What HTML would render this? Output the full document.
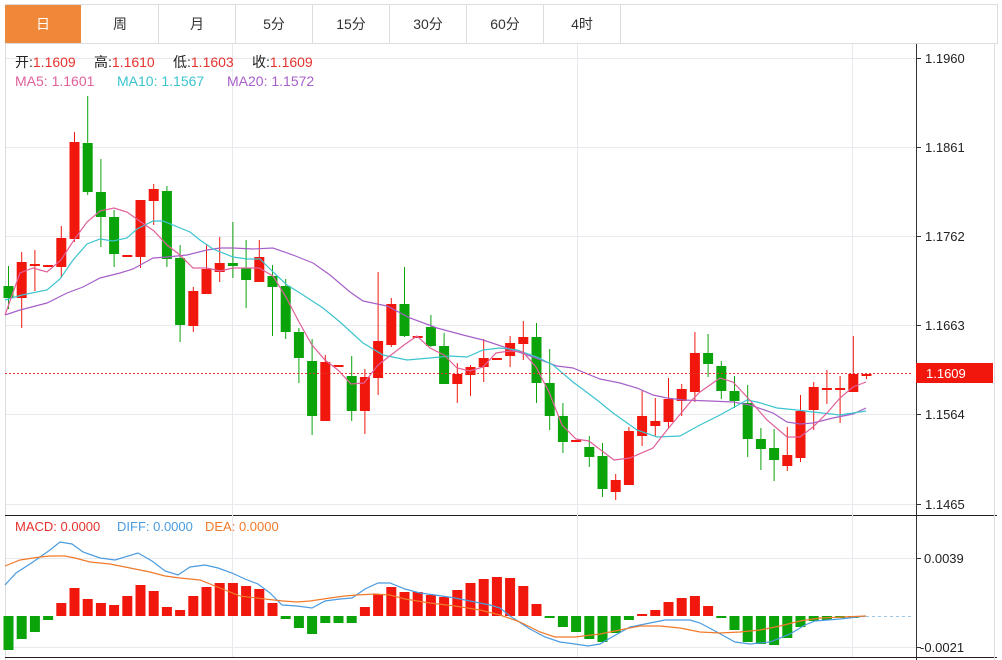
<!DOCTYPE html>
<html><head><meta charset="utf-8">
<style>
body{margin:0;background:#fff;width:1002px;height:660px;overflow:hidden;font-family:"Liberation Sans","Noto Sans CJK SC",sans-serif;}
svg{position:absolute;left:0;top:0}
</style></head><body>
<svg id="s" width="1002" height="660" xmlns="http://www.w3.org/2000/svg" font-family="Liberation Sans, Noto Sans CJK SC, sans-serif">
<rect x="0" y="0" width="1002" height="660" fill="#fff"/>
<!-- tabs -->
<rect x="5.5" y="4.5" width="992" height="39" fill="#fff" stroke="#ddd"/>
<rect x="5" y="5" width="76" height="38" fill="#f0883a"/>
<g stroke="#ddd"><line x1="158.5" y1="5" x2="158.5" y2="43"/><line x1="235.5" y1="5" x2="235.5" y2="43"/><line x1="312.5" y1="5" x2="312.5" y2="43"/><line x1="389.5" y1="5" x2="389.5" y2="43"/><line x1="466.5" y1="5" x2="466.5" y2="43"/><line x1="543.5" y1="5" x2="543.5" y2="43"/><line x1="620.5" y1="5" x2="620.5" y2="43"/></g>
<g font-size="14" text-anchor="middle" fill="#333">
<text x="43" y="29" fill="#fff">日</text><text x="120" y="29">周</text><text x="197" y="29">月</text><text x="274" y="29">5分</text><text x="351" y="29">15分</text><text x="428" y="29">30分</text><text x="505" y="29">60分</text><text x="582" y="29">4时</text>
</g>
<!-- frame -->
<line x1="5.5" y1="44" x2="5.5" y2="660" stroke="#ddd"/>
<line x1="916.5" y1="44" x2="916.5" y2="660" stroke="#333"/>
<line x1="5" y1="515.5" x2="997" y2="515.5" stroke="#222"/>
<line x1="5" y1="657.5" x2="997" y2="657.5" stroke="#222"/>
<line x1="994.5" y1="44" x2="994.5" y2="660" stroke="#ddd"/>
<!-- grid -->
<g stroke="#e8e8ee">
<line x1="6" y1="58.5" x2="916" y2="58.5"/><line x1="6" y1="147.5" x2="916" y2="147.5"/><line x1="6" y1="236.5" x2="916" y2="236.5"/><line x1="6" y1="325.5" x2="916" y2="325.5"/><line x1="6" y1="414.5" x2="916" y2="414.5"/><line x1="6" y1="504.5" x2="916" y2="504.5"/>
<line x1="6" y1="558.5" x2="916" y2="558.5"/><line x1="6" y1="647.5" x2="916" y2="647.5"/>
<line x1="232.5" y1="44" x2="232.5" y2="657"/><line x1="577.5" y1="44" x2="577.5" y2="657"/><line x1="852.5" y1="44" x2="852.5" y2="657"/>
</g>
<!-- axis ticks & labels -->
<g stroke="#333"><line x1="916" y1="58.5" x2="921" y2="58.5"/><line x1="916" y1="147.5" x2="921" y2="147.5"/><line x1="916" y1="236.5" x2="921" y2="236.5"/><line x1="916" y1="325.5" x2="921" y2="325.5"/><line x1="916" y1="414.5" x2="921" y2="414.5"/><line x1="916" y1="504.5" x2="921" y2="504.5"/><line x1="916" y1="558.5" x2="921" y2="558.5"/><line x1="916" y1="647.5" x2="921" y2="647.5"/></g>
<g font-size="13" fill="#222">
<text x="925" y="63">1.1960</text><text x="925" y="152">1.1861</text><text x="925" y="241">1.1762</text><text x="925" y="330">1.1663</text><text x="925" y="419">1.1564</text><text x="925" y="509">1.1465</text>
<text x="924" y="563">0.0039</text><text x="920" y="652">-0.0021</text>
</g>
<!-- legend -->
<g font-size="14">
<text y="67"><tspan x="15" fill="#222">开:</tspan><tspan fill="#e5322d">1.1609</tspan><tspan x="94" fill="#222">高:</tspan><tspan fill="#e5322d">1.1610</tspan><tspan x="173" fill="#222">低:</tspan><tspan fill="#e5322d">1.1603</tspan><tspan x="252" fill="#222">收:</tspan><tspan fill="#e5322d">1.1609</tspan></text>
<text y="86"><tspan x="15" fill="#e0609a">MA5: 1.1601</tspan><tspan x="117" fill="#3cc4cf">MA10: 1.1567</tspan><tspan x="227" fill="#a660c8">MA20: 1.1572</tspan></text>
</g>
<g font-size="13">
<text y="531"><tspan x="15" fill="#e5322d">MACD: 0.0000</tspan><tspan x="117" fill="#4a9be0">DIFF: 0.0000</tspan><tspan x="205" fill="#f07a2a">DEA: 0.0000</tspan></text>
</g>
<g id="c"></g>
<line x1="5" y1="373.5" x2="913" y2="373.5" stroke="#e5322d" stroke-dasharray="2,2"/>
<line x1="866" y1="616.5" x2="913" y2="616.5" stroke="#9cc8e8" stroke-dasharray="3,3"/>
<rect x="916" y="363" width="77" height="20" fill="#f1170d"/>
<text x="926" y="378" font-size="13" fill="#fff">1.1609</text>
</svg>
<script>
var C=[[286,298,266,309,0],[298,262,252,328,1],[264,264,250,291,1],[265,265,265,265,1],[267,238,226,278,1],[239,142,132,242,1],[143,192,96,195,0],[192,217,159,247,0],[217,254,210,267,0],[255,255,255,255,1],[257,200,200,268,1],[201,189,184,225,1],[191,259,186,267,0],[258,325,245,342,0],[326,291,287,332,1],[294,269,245,294,1],[272,263,237,282,1],[263,266,222,278,0],[268,280,240,308,0],[282,257,240,282,1],[276,287,265,336,0],[286,332,279,339,0],[332,358,328,383,0],[361,416,339,435,0],[421,362,355,421,1],[365,365,365,365,1],[376,411,356,421,0],[411,377,369,434,1],[378,341,272,395,1],[345,304,298,347,1],[304,336,267,337,0],[336,336,336,336,1],[327,346,315,347,0],[346,384,333,384,0],[384,374,363,403,1],[375,367,365,396,1],[367,358,339,382,1],[358,358,358,358,1],[356,343,336,367,1],[344,337,321,360,1],[337,383,323,403,0],[383,416,349,430,0],[416,442,403,453,0],[440,440,440,440,1],[447,457,436,467,0],[456,489,443,497,0],[492,480,474,500,1],[485,431,427,485,1],[436,416,391,446,1],[426,421,398,436,1],[422,399,378,429,1],[401,389,384,416,1],[392,353,332,402,1],[353,364,334,377,0],[366,391,361,399,0],[391,401,376,408,0],[403,439,385,457,0],[439,449,428,470,0],[448,460,429,481,0],[466,455,427,471,1],[458,411,395,462,1],[410,387,382,430,1],[388,388,370,404,1],[388,388,376,423,1],[392,374,336,392,1],[374,374,373,379,1]];
var H=[650,639,632,620,603,588,599,603,605,596,585,591,607,610,596,587,583,583,586,589,603,619,628,634,623,623,623,607,594,587,592,592,595,597,590,583,579,577,578,586,604,617,627,632,639,642,633,620,614,610,602,598,596,606,617,630,642,644,645,638,627,621,620,618,617,616];
var o='',Z=616;
function X(i){return 8.5+13.2*i}
C.forEach(function(c,i){var x=X(i),col=c[4]?'#f1170d':'#0aa30a';var t=Math.min(c[0],c[1]),b=Math.max(c[0],c[1]);
if(c[2]<c[3])o+='<line x1="'+x+'" y1="'+c[2]+'" x2="'+x+'" y2="'+c[3]+'" stroke="'+col+'"/>';
o+='<rect x="'+(x-5)+'" y="'+t+'" width="10" height="'+Math.max(b-t,2)+'" fill="'+col+'"/>';});
H.forEach(function(h,i){var x=X(i);if(Math.abs(h-Z)<1)return;var col=h<Z?'#f1170d':'#0aa30a';var t=Math.min(h,Z),b=Math.max(h,Z);
o+='<rect x="'+(x-5)+'" y="'+t+'" width="10" height="'+Math.max(b-t,2)+'" fill="'+col+'"/>';});
function P(pts,col){return '<polyline fill="none" stroke="'+col+'" stroke-width="1.2" points="'+pts+'"/>'}
o+=P("5,315 20,310 47,303 67,293 83,287 100,278 120,273 133,269 153,258 167,257 187,255 207,250 220,248 233,248 253,249 273,248 293,255 313,263 330,275 350,292 363,301 387,306 410,318 437,328 463,335 483,340 510,349 533,357 557,366 573,368 590,375 600,379 620,383 637,388 653,395 667,398 683,400 710,401 733,402 750,405 773,413 787,422 800,424 813,423 833,418 853,414 866,408",'#a660c8');
o+=P("5,300 22,295 47,290 60,279 73,260 87,244 100,239 113,241 127,238 137,229 153,221 163,221 190,232 200,240 213,249 233,257 247,259 260,259 273,272 287,285 300,293 323,308 340,322 363,343 383,355 407,360 430,358 450,356 467,357 483,350 500,348 517,350 537,357 553,365 573,382 597,400 613,413 637,430 657,437 680,436 700,425 720,415 747,400 757,402 777,408 797,410 813,412 840,415 866,411",'#3cc4cf');
o+=P("5,315 20,273 33,268 47,272 61,260 74,240 87,222 100,211 114,208 127,212 141,222 154,231 167,245 180,255 193,268 207,268 220,271 233,268 246,268 259,268 273,276 286,297 299,322 312,345 325,360 338,370 351,384 364,383 378,365 391,355 404,345 417,336 430,348 444,355 457,368 470,371 483,367 496,353 510,351 523,352 536,367 549,392 562,425 576,439 589,441 602,451 614,460 630,458 653,448 667,430 692,400 700,392 720,378 733,382 747,397 767,420 787,437 800,437 813,427 827,413 840,398 853,387 866,382",'#e0609a');
o+=P("5,585 16,573 33,562 50,550 60,542 72,544 83,552 100,558 115,560 138,553 152,561 165,571 178,575 190,567 205,565 218,568 232,573 245,579 258,584 270,593 282,605 297,606 312,608 325,601 340,599 352,598 365,589 378,583 390,583 405,589 420,593 435,595 455,598 475,602 490,605 500,608 510,616 530,629 545,637 560,642 575,644 588,646 600,644 612,637 630,627 650,623 665,620 690,620 700,623 715,631 735,642 750,644 770,642 790,634 805,625 815,621 840,619 866,616",'#4a9be0');
o+=P("5,566 20,560 40,557 50,556 65,556 75,558 90,562 110,564 130,568 150,572 165,576 180,578 200,580 215,586 240,596 265,599 283,601 297,602 310,601 330,598 345,596 357,595 375,594 390,595 405,599 430,603 455,606 480,610 500,615 520,622 540,632 555,637 575,637 600,634 620,630 640,626 660,626 680,628 700,632 720,633 740,632 760,630 780,626 800,621 820,618 866,616",'#f07a2a');
document.getElementById('c').innerHTML=o;
</script>
</body></html>
